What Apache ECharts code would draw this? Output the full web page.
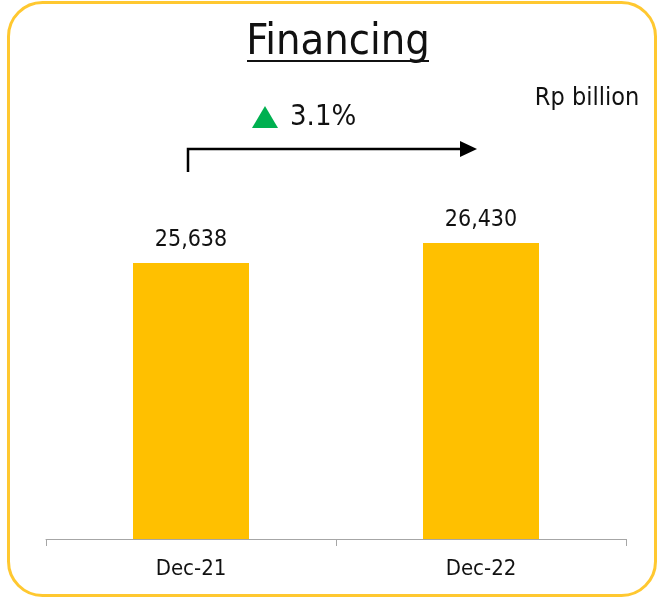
<!DOCTYPE html>
<html>
<head>
<meta charset="utf-8">
<script src="https://cdn.jsdelivr.net/npm/echarts@6.0.0/dist/echarts.min.js"></script>
<style>
  html, body { margin: 0; padding: 0; background: #fff; }
  #main { width: 657px; height: 597px; }
</style>
</head>
<body>
<div id="main"></div>
<script>
const categories = ['Dec-21', 'Dec-22'];
const financing = [25638, 26430];
const chartTitle = 'Financing';
const unitLabel = 'Rp billion';

const FONT = '"DejaVu Sans Condensed", "Noto Sans", sans-serif';
const growth = ((financing[1] / financing[0] - 1) * 100).toFixed(1) + '%';

const myChart = echarts.init(document.getElementById('main'));

myChart.setOption({
  backgroundColor: '#fff',
  animation: false,
  grid: { left: 46, right: 31, top: 153, bottom: 58 },
  xAxis: {
    type: 'category',
    data: categories,
    axisLine: { lineStyle: { color: '#a6a6a6', width: 1 } },
    axisTick: { show: true, length: 7, lineStyle: { color: '#a6a6a6' } },
    axisLabel: { margin: 19, color: '#111', fontSize: 22, fontFamily: FONT }
  },
  yAxis: {
    type: 'value',
    min: 14700,
    max: 30000,
    show: false,
    splitLine: { show: false }
  },
  series: [{
    type: 'bar',
    data: financing,
    barWidth: '40%',
    itemStyle: { color: '#ffc000' },
    label: {
      show: true,
      position: 'top',
      distance: 12,
      color: '#111',
      fontSize: 23,
      fontFamily: FONT,
      formatter: p => p.value.toLocaleString('en-US')
    }
  }],
  graphic: [
    // rounded frame
    { type: 'rect', shape: { x: 8.5, y: 2.5, width: 647, height: 593, r: 34 },
      style: { fill: 'none', stroke: '#ffc830', lineWidth: 3 }, silent: true },
    // title + underline
    { type: 'text', style: { text: chartTitle, x: 338, y: 43, align: 'center', verticalAlign: 'middle',
      font: '43px ' + FONT, fill: '#111' } },
    { type: 'line', shape: { x1: 247, y1: 61, x2: 429, y2: 61 }, style: { stroke: '#111', lineWidth: 2 } },
    // unit
    { type: 'text', style: { text: unitLabel, x: 587, y: 98, align: 'center', verticalAlign: 'middle',
      font: '25px ' + FONT, fill: '#111' } },
    // growth marker
    { type: 'polygon', shape: { points: [[252, 128], [278, 128], [265, 106]] }, style: { fill: '#00b050' } },
    { type: 'text', style: { text: growth, x: 290, y: 117, align: 'left', verticalAlign: 'middle',
      font: '29px ' + FONT, fill: '#111' } },
    // arrow
    { type: 'polyline', shape: { points: [[188, 172], [188, 149], [462, 149]] },
      style: { stroke: '#000', lineWidth: 2.5, fill: null } },
    { type: 'polygon', shape: { points: [[460, 141], [477, 149], [460, 157]] }, style: { fill: '#000' } }
  ]
});

window.onresize = function () {
  myChart.resize();
};
</script>
</body>
</html>
